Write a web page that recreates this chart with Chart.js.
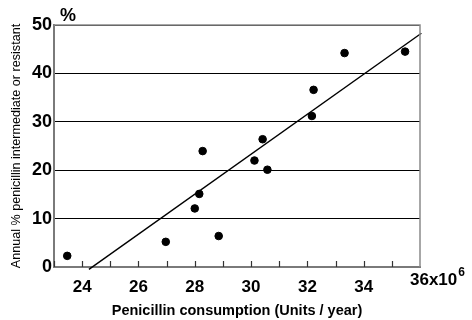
<!DOCTYPE html>
<html><head><meta charset="utf-8">
<script src="https://cdn.jsdelivr.net/npm/chart.js@4.4.0/dist/chart.umd.min.js"></script>
<style>html,body{margin:0;padding:0;background:#fff}#wrap{width:472px;height:320px}</style>
</head><body><div id="wrap"><canvas id="c"></canvas></div>
<script>
const consumption = [23.47, 26.97, 28.85, 28.0, 28.16, 28.28, 30.12, 30.58, 30.41, 32.16, 32.22, 33.32, 35.47];
const resistance  = [2.3, 5.2, 6.4, 12.1, 15.1, 23.95, 22.0, 20.1, 26.4, 31.2, 36.6, 44.2, 44.5];
const trendX = [24.24, 36.05];
const trendY = [-0.5, 48.3];
const xTickValues = [24, 26, 28, 30, 32, 34];
const lastXLabel = 36;
const yUnit = '%';
const xTitle = 'Penicillin consumption (Units / year)';
const yTitle = 'Annual % penicillin intermediate or resistant';

const deco = {
  id: 'deco',
  afterDraw(chart) {
    const {ctx, chartArea: a, scales: {x, y}} = chart;
    ctx.save();
    // right and top border
    ctx.strokeStyle = '#8a8a8a';
    ctx.lineWidth = 1.5;
    ctx.beginPath();
    ctx.moveTo(a.left, a.top); ctx.lineTo(a.right, a.top); ctx.lineTo(a.right, a.bottom);
    ctx.stroke();
    // inward ticks
    ctx.strokeStyle = '#333';
    ctx.lineWidth = 1.2;
    for (let v = Math.ceil(x.min); v < x.max; v++) {
      const px = Math.round(x.getPixelForValue(v)) + 0.5;
      ctx.beginPath(); ctx.moveTo(px, a.bottom); ctx.lineTo(px, a.bottom - 6); ctx.stroke();
    }
    // % label
    ctx.fillStyle = '#000';
    ctx.font = 'bold 18px "Liberation Sans", Arial, sans-serif';
    ctx.textBaseline = 'alphabetic';
    ctx.textAlign = 'left';
    ctx.fillText(yUnit, 60, 21);
    // last x label with superscript
    const px36 = x.getPixelForValue(lastXLabel);
    ctx.font = 'bold 17px "Liberation Sans", Arial, sans-serif';
    const base = String(lastXLabel) + 'x10';
    ctx.fillText(base, px36 - 10, 285);
    const w = ctx.measureText(base).width;
    ctx.font = 'bold 12px "Liberation Sans", Arial, sans-serif';
    ctx.fillText('6', px36 - 10 + w + 1, 276);
    ctx.restore();
  }
};

new Chart(document.getElementById('c'), {
  data: {
    datasets: [
      {
        type: 'scatter',
        data: consumption.map((v, i) => ({x: v, y: resistance[i]})),
        backgroundColor: '#000', borderColor: '#000',
        pointRadius: 3.8, pointHoverRadius: 3.8
      },
      {
        type: 'line',
        data: trendX.map((v, i) => ({x: v, y: trendY[i]})),
        borderColor: '#000', borderWidth: 1.4, pointRadius: 0, fill: false,
        clip: false
      }
    ]
  },
  options: {
    responsive: true, maintainAspectRatio: false, animation: false,
    events: [],
    layout: {padding: {top: 25, right: 52, left: 0, bottom: 0}},
    plugins: {legend: {display: false}, tooltip: {enabled: false}},
    scales: {
      x: {
        type: 'linear', min: 23, max: 36,
        afterBuildTicks(s) { s.ticks = xTickValues.map(v => ({value: v})); },
        ticks: {
          autoSkip: false, maxRotation: 0, padding: 2, color: '#000',
          font: {family: '"Liberation Sans", Arial, sans-serif', size: 17, weight: 'bold'}
        },
        grid: {display: false},
        border: {display: true, color: '#7a7a7a', width: 2},
        title: {
          display: true, text: xTitle, color: '#000',
          font: {family: '"Liberation Sans", Arial, sans-serif', size: 14.5, weight: 'bold'},
          padding: {top: 11, bottom: 0}
        },
        afterFit(s) { s.height = 53; }
      },
      y: {
        min: 0, max: 50,
        ticks: {
          stepSize: 10, padding: 2, color: '#000',
          font: {family: '"Liberation Sans", Arial, sans-serif', size: 18, weight: 'bold'}
        },
        grid: {color: '#000', lineWidth: 1, drawTicks: false},
        border: {display: true, color: '#7a7a7a', width: 2},
        title: {
          display: true, text: yTitle, color: '#000',
          font: {family: '"Liberation Sans", Arial, sans-serif', size: 12.6, weight: 'normal'},
          padding: {top: 9, bottom: 0}
        },
        afterFit(s) { s.width = 54; }
      }
    }
  },
  plugins: [deco]
});
</script></body></html>
